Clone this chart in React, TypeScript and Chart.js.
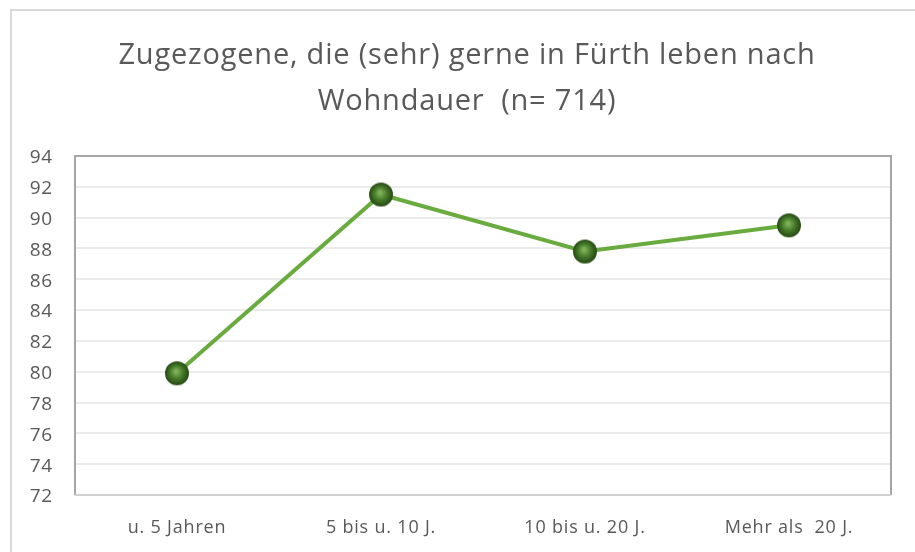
import React, { useEffect, useRef } from "react";
import { Chart, registerables } from "chart.js";

Chart.register(...registerables);

const titleLines = ["Zugezogene, die (sehr) gerne in Fürth leben nach", "Wohndauer  (n= 714)"];
const categories = ["u. 5 Jahren", "5 bis u. 10 J.", "10 bis u. 20 J.", "Mehr als  20 J."];
const values = [79.9, 91.5, 87.8, 89.5];
const yMin = 72;
const yMax = 94;
const yStep = 2;

function makeSphere(): HTMLCanvasElement {
  const size = 28;
  const c = document.createElement("canvas");
  c.width = size;
  c.height = size;
  const ctx = c.getContext("2d")!;
  const r = 12;
  const cx = size / 2;
  const cy = size / 2;
  const g = ctx.createRadialGradient(cx - 1, cy - 2, 1, cx, cy, r);
  g.addColorStop(0, "#80b25a");
  g.addColorStop(0.45, "#4b802d");
  g.addColorStop(0.82, "#30591b");
  g.addColorStop(1, "#2a4d17");
  ctx.beginPath();
  ctx.arc(cx, cy, r, 0, Math.PI * 2);
  ctx.fillStyle = g;
  ctx.fill();
  return c;
}

const spacing = {
  id: "spacing",
  beforeDraw(chart: any) {
    (chart.ctx as any).letterSpacing = "0.8px";
  },
};

const titleDraw = {
  id: "titleDraw",
  afterDraw(chart: any) {
    const ctx = chart.ctx;
    ctx.save();
    (ctx as any).letterSpacing = "0.8px";
    ctx.fillStyle = "#595959";
    ctx.font = "29px 'Open Sans'";
    ctx.textAlign = "center";
    ctx.textBaseline = "middle";
    const cx = 467;
    titleLines.forEach((line, i) => {
      ctx.fillText(line, cx, 56 + i * 46);
    });
    ctx.restore();
  },
};

const plotBorder = {
  id: "plotBorder",
  afterDatasetsDraw(chart: any) {
    const { ctx, chartArea } = chart;
    ctx.save();
    ctx.lineWidth = 2;
    ctx.strokeStyle = "#a6a6a6";
    ctx.beginPath();
    ctx.moveTo(chartArea.left, chartArea.bottom);
    ctx.lineTo(chartArea.left, chartArea.top);
    ctx.lineTo(chartArea.right, chartArea.top);
    ctx.lineTo(chartArea.right, chartArea.bottom);
    ctx.stroke();
    ctx.strokeStyle = "#d0d0d0";
    ctx.beginPath();
    ctx.moveTo(chartArea.left, chartArea.bottom);
    ctx.lineTo(chartArea.right, chartArea.bottom);
    ctx.stroke();
    ctx.restore();
  },
};

export default function App() {
  const ref = useRef<HTMLCanvasElement>(null);
  useEffect(() => {
    if (!ref.current) return;
    const sphere = makeSphere();
    const chart = new Chart(ref.current, {
      type: "line",
      data: {
        labels: categories,
        datasets: [
          {
            data: values,
            borderColor: "#6aab3f",
            borderWidth: 4,
            pointStyle: sphere as any,
            pointRadius: 12,
            pointHoverRadius: 12,
            tension: 0,
          },
        ],
      },
      options: {
        animation: false,
        responsive: false,
        maintainAspectRatio: false,
        layout: { padding: { left: 0, right: 24, top: 156, bottom: 0 } },
        plugins: {
          legend: { display: false },
          tooltip: { enabled: false },
          title: { display: false },
        },
        scales: {
          x: {
            offset: true,
            grid: { display: false, drawTicks: false },
            border: { display: false },
            ticks: {
              color: "#595959",
              font: { family: "'Open Sans'", size: 18 },
              padding: 22,
              maxRotation: 0,
            },
            afterFit(scale: any) {
              scale.height = 57;
            },
          },
          y: {
            min: yMin,
            max: yMax,
            grid: { color: "#ebebeb", lineWidth: 2, drawTicks: false },
            border: { display: false },
            ticks: {
              stepSize: yStep,
              color: "#595959",
              font: { family: "'Open Sans'", size: 19 },
              padding: 22,
              labelOffset: 2,
            },
            afterFit(scale: any) {
              scale.width = 75;
            },
          },
        },
      },
      plugins: [spacing, plotBorder, titleDraw],
    });
    return () => chart.destroy();
  }, []);

  return (
    <div style={{ position: "fixed", left: 0, top: 0, width: 915, height: 552, overflow: "hidden", background: "#fff" }}>
      <div
        style={{
          position: "absolute",
          left: 10,
          top: 9,
          width: 1000,
          height: 700,
          border: "2px solid #d9d9d9",
          boxSizing: "border-box",
        }}
      />
      <canvas ref={ref} width={915} height={552} style={{ position: "absolute", left: 0, top: 0, width: 915, height: 552 }} />
    </div>
  );
}
